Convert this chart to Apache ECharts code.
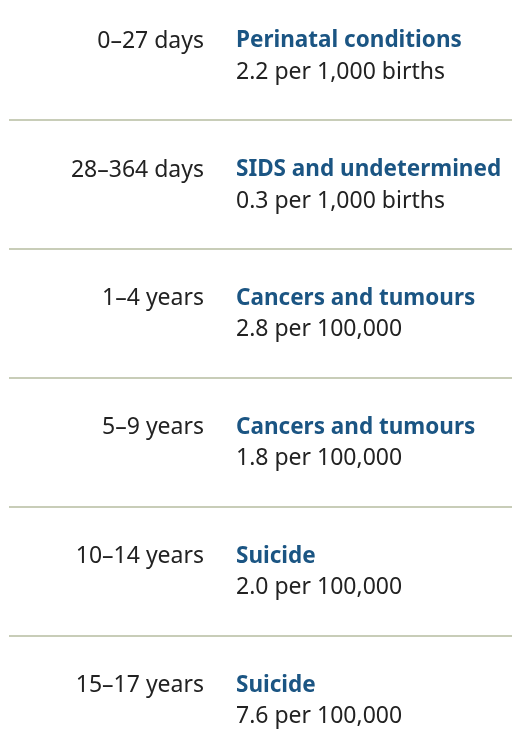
<!DOCTYPE html>
<html>
<head>
<meta charset="utf-8">
<style>
  html, body { margin: 0; padding: 0; background: #fff; }
  #chart { width: 512px; height: 731px; }
</style>
<script src="https://cdn.jsdelivr.net/npm/echarts@6/dist/echarts.min.js"></script>
</head>
<body>
<div id="chart"></div>
<script>
const ageGroups = ["0–27 days", "28–364 days", "1–4 years", "5–9 years", "10–14 years", "15–17 years"];
const causes = ["Perinatal conditions", "SIDS and undetermined", "Cancers and tumours", "Cancers and tumours", "Suicide", "Suicide"];
const rates = ["2.2 per 1,000 births", "0.3 per 1,000 births", "2.8 per 100,000", "1.8 per 100,000", "2.0 per 100,000", "7.6 per 100,000"];

const font = "Noto Sans";
let chart = echarts.init(document.getElementById("chart"));

chart.setOption({
  animation: false,
  grid: { left: 0, right: 0, top: 0, bottom: 0 },
  xAxis: { type: "value", min: 0, max: 512, show: false },
  // one row per unit, 129px tall
  yAxis: { type: "value", inverse: true, min: -0.43, max: 5.237, show: false },
  series: [
    {
      type: "custom",
      data: ageGroups.map((a, i) => [0, i]),
      renderItem: function (params, api) {
        const i = api.value(1);
        const cy = api.coord([0, i])[1];
        const band = api.size([0, 1])[1];
        const children = [
          {
            type: "text",
            style: {
              x: 204, y: cy - 14.5, text: ageGroups[i],
              align: "right", verticalAlign: "middle",
              font: "23px '" + font + "'", fill: "#222"
            }
          },
          {
            type: "text",
            style: {
              x: 236, y: cy - 14.5, text: causes[i],
              align: "left", verticalAlign: "middle",
              font: "bold 22.5px '" + font + "'", fill: "#1b5583"
            }
          },
          {
            type: "text",
            style: {
              x: 236, y: cy + 16.5, text: rates[i],
              align: "left", verticalAlign: "middle",
              font: "23px '" + font + "'", fill: "#222"
            }
          }
        ];
        if (i < ageGroups.length - 1) {
          children.push({
            type: "line",
            shape: { x1: 9, y1: cy + band / 2, x2: 512, y2: cy + band / 2 },
            style: { stroke: "#c8cdb8", lineWidth: 2 }
          });
        }
        return { type: "group", children: children };
      }
    }
  ]
});
</script>
</body>
</html>
